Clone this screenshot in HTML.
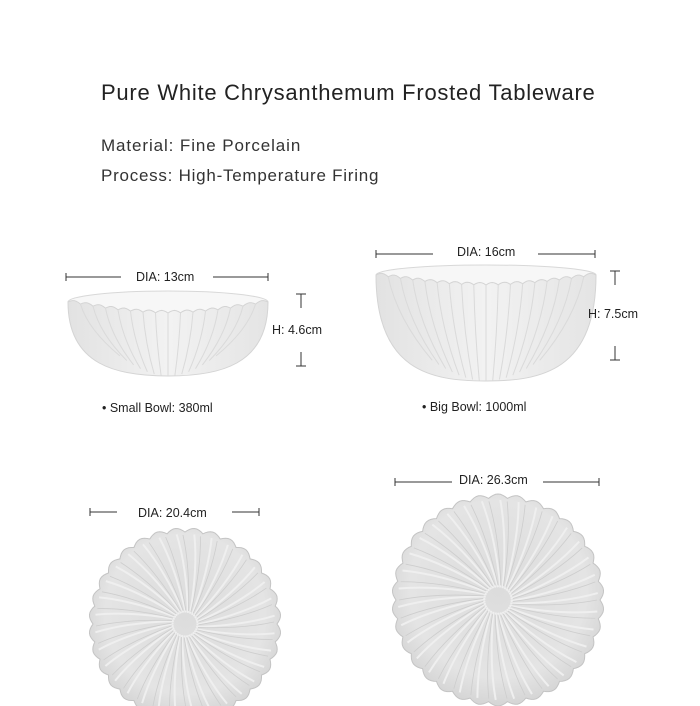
<!DOCTYPE html>
<html><head><meta charset="utf-8"><style>
body{margin:0;background:#fff;}
#c{position:relative;width:700px;height:706px;overflow:hidden;font-family:"Liberation Sans",sans-serif;color:#222;}
.t{position:absolute;white-space:nowrap;}
</style></head><body><div id="c">
<div class="t" style="left:101px;top:80px;font-size:22px;letter-spacing:0.75px;">Pure White Chrysanthemum Frosted Tableware</div>
<div class="t" style="left:101px;top:136px;font-size:17px;letter-spacing:0.9px;color:#333">Material: Fine Porcelain</div>
<div class="t" style="left:101px;top:166px;font-size:17px;letter-spacing:0.75px;color:#333">Process: High-Temperature Firing</div>
<svg id="s" width="700" height="706" style="position:absolute;left:0;top:0" font-family="Liberation Sans, sans-serif" font-size="12.5" fill="#222">
<defs>
<radialGradient id="pg" cx="0.5" cy="0.45" r="0.6"><stop offset="0" stop-color="#dcdcdc"/><stop offset="0.7" stop-color="#e4e4e4"/><stop offset="1" stop-color="#cfcfcf"/></radialGradient>
<linearGradient id="bg" x1="0" x2="1"><stop offset="0" stop-color="#e2e2e2"/><stop offset="0.5" stop-color="#f2f2f2"/><stop offset="1" stop-color="#e4e4e4"/></linearGradient>
</defs>
<g id="bowls"></g>
<g id="plates"></g>
<g stroke="#333" stroke-width="1" fill="none">
<path d="M66 273v8M66 277h55M213 277h55M268 273v8"/>
<path d="M376 250v8M376 254h57M538 254h57M595 250v8"/>
<path d="M296 294h10M301 294v14M296 366h10M301 366v-14"/>
<path d="M610 271h10M615 271v14M610 360h10M615 360v-14"/>
<path d="M90 508v8M90 512h27M232 512h27M259 508v8"/>
<path d="M395 478v8M395 482h57M543 482h56M599 478v8"/>
</g>
<text x="136" y="281">DIA: 13cm</text>
<text x="457" y="256">DIA: 16cm</text>
<text x="272" y="334">H: 4.6cm</text>
<text x="588" y="318">H: 7.5cm</text>
<text x="138" y="517">DIA: 20.4cm</text>
<text x="459" y="484">DIA: 26.3cm</text>
<text x="102" y="412">•  Small Bowl: 380ml</text>
<text x="422" y="411">•  Big Bowl: 1000ml</text>
</svg>
<script>
var ns="http://www.w3.org/2000/svg";
function el(p,t,a){var e=document.createElementNS(ns,t);for(var k in a)e.setAttribute(k,a[k]);p.appendChild(e);return e;}
var B=document.getElementById('bowls');
function bowl(x0,x1,yt,yb,rimH,n){
 var cx=(x0+x1)/2,w=x1-x0;
 var d="M"+x0+" "+yt+" C"+x0+" "+(yb-10)+" "+(cx-w*0.25)+" "+yb+" "+cx+" "+yb+" C"+(cx+w*0.25)+" "+yb+" "+x1+" "+(yb-10)+" "+x1+" "+yt;
 var top="";
 var m=n*6;
 for(var i=m;i>=0;i--){var t=i/m;var x=x0+w*t;var k=(i%6)/6;var y=yt+rimH*Math.sin(Math.PI*t)-2.5*Math.sin(Math.PI*k);top+=" L"+x.toFixed(1)+" "+y.toFixed(1);}
 el(B,'ellipse',{cx:cx,cy:yt,rx:w/2,ry:rimH,fill:'#f7f7f7',stroke:'#d8d8d8'});
 el(B,'path',{d:d+top+"Z",fill:'url(#bg)',stroke:'#d4d4d4'});
 for(var i=1;i<n;i++){var t=i/n;var x=x0+w*t;var y=yt+rimH*Math.sin(Math.PI*t);
  var xb=cx+(x-cx)*0.55;var yb2=yb-(1-Math.sin(Math.PI*t))*25;
  el(B,'path',{d:"M"+x+" "+y+" Q"+(x+(xb-x)*0.2)+" "+((y+yb2)/2)+" "+xb+" "+yb2,stroke:'#dadada','stroke-width':1,fill:'none'});}
}
bowl(68,268,302,376,11,16);
bowl(376,596,275,381,10,18);
var P=document.getElementById('plates');
function plate(cx,cy,r,n){
 var d="";
 for(var i=0;i<=n*8;i++){var a=i/(n*8)*2*Math.PI;var k=(i%8)/8;var rr=r-4+4*Math.sin(Math.PI*k);
  d+=(i?"L":"M")+(cx+rr*Math.cos(a)).toFixed(1)+" "+(cy+rr*Math.sin(a)).toFixed(1);}
 el(P,'path',{d:d+"Z",fill:'url(#pg)',stroke:'#c4c4c4'});
 for(var i=0;i<n;i++){var a=i/n*2*Math.PI+0.3;var a2=a+0.35;
  el(P,'path',{d:"M"+(cx+r*0.12*Math.cos(a2))+" "+(cy+r*0.12*Math.sin(a2))+" Q"+(cx+r*0.6*Math.cos(a+0.12))+" "+(cy+r*0.6*Math.sin(a+0.12))+" "+(cx+(r-6)*Math.cos(a))+" "+(cy+(r-6)*Math.sin(a)),stroke:'#efefef','stroke-width':2,fill:'none'});
  el(P,'path',{d:"M"+(cx+r*0.14*Math.cos(a2))+" "+(cy+r*0.14*Math.sin(a2))+" Q"+(cx+r*0.6*Math.cos(a+0.18))+" "+(cy+r*0.6*Math.sin(a+0.18))+" "+(cx+(r-7)*Math.cos(a+0.07))+" "+(cy+(r-7)*Math.sin(a+0.07)),stroke:'#cdcdcd','stroke-width':0.8,fill:'none'});}
}
plate(185,624,96,32);
plate(498,600,106,34);
</script>
</div></body></html>
